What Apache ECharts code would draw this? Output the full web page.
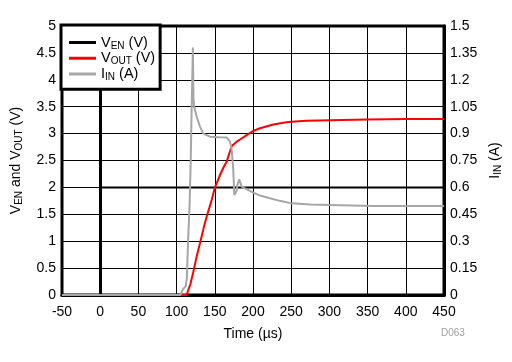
<!DOCTYPE html>
<html><head><meta charset="utf-8">
<script src="https://cdn.jsdelivr.net/npm/echarts@6/dist/echarts.min.js"></script>
<style>html,body{margin:0;padding:0;background:#fff}#c{width:512px;height:362px}</style>
</head><body><div id="c"></div>
<script>
// Data
const tEN = [-50, 0, 0.2, 1, 450];
const vEN = [0, 0, 0.8, 2, 2];
const tOUT = [-50, 113, 115.3, 118, 121.9, 126, 130.6, 135, 139.4, 146, 150, 156.8, 161, 165.6, 172.1, 178.7, 183, 191.7, 200.4, 209.2, 226.5, 244, 250.6, 270, 300.8, 350, 400, 450];
const vOUT = [0, 0, 0.03, 0.2, 0.43, 0.7, 0.96, 1.22, 1.46, 1.77, 1.99, 2.23, 2.36, 2.48, 2.77, 2.85, 2.89, 2.97, 3.05, 3.10, 3.17, 3.21, 3.22, 3.24, 3.25, 3.26, 3.27, 3.27];
const tIN = [-50, 105, 108, 110, 112, 113.5, 115, 117, 118.5, 119.5, 120.5, 121.3, 122, 123, 126.3, 130.6, 135, 143.7, 155, 165.6, 169.9, 172.1, 174.2, 175.5, 177, 178.5, 180, 182, 185.2, 189.5, 200.4, 210, 222.3, 235, 250.6, 275, 300.8, 357.5, 400, 450];
const iIN = [0, 0, 0.03, 0.02, 0.05, 0.1, 0.3, 0.5, 0.75, 1.0, 1.2, 1.38, 1.1, 1.05, 0.994, 0.939, 0.9, 0.883, 0.88, 0.878, 0.855, 0.809, 0.697, 0.558, 0.552, 0.58, 0.62, 0.645, 0.604, 0.595, 0.571, 0.553, 0.539, 0.525, 0.511, 0.505, 0.502, 0.496, 0.496, 0.496];
const xTicks = {min: -50, max: 450, interval: 50};
const yLeft = {min: 0, max: 5, interval: 0.5};
const yRight = {min: 0, max: 1.5, interval: 0.15};

const zip = (a, b) => a.map((t, i) => [t, b[i]]);
const FONT = 'Liberation Sans';
const rich = {
  n: {fontFamily: FONT, fontSize: 14, color: '#000', lineHeight: 16},
  s: {fontFamily: FONT, fontSize: 10, color: '#000', verticalAlign: 'bottom', lineHeight: 16, padding: [5, 0, 0, 0]}
};
const richLeg = {
  n: {fontFamily: FONT, fontSize: 14.5, color: '#000', lineHeight: 16.5},
  s: {fontFamily: FONT, fontSize: 10, color: '#000', verticalAlign: 'bottom', lineHeight: 16.5, padding: [5, 0, 0, 0]}
};
const names = {'VEN': '{n|V}{s|EN}{n| (V)}', 'VOUT': '{n|V}{s|OUT}{n| (V)}', 'IIN': '{n|I}{s|IN}{n| (A)}'};

const chart = echarts.init(document.getElementById('c'), null, {renderer: 'canvas'});
chart.setOption({
  animation: false,
  textStyle: {fontFamily: FONT},
  grid: {left: 62, right: 68, top: 26, bottom: 67, show: true, borderColor: '#000', borderWidth: 3, containLabel: false},
  legend: {
    orient: 'vertical', left: 61, top: 25,
    backgroundColor: '#fff', borderColor: '#000', borderWidth: 3,
    padding: [10, 5, 7, 8], itemGap: 0,
    icon: 'rect', itemWidth: 27, itemHeight: 3,
    textStyle: {fontFamily: FONT, fontSize: 14.5, color: '#000', rich: richLeg},
    formatter: n => names[n],
    data: ['VEN', 'VOUT', 'IIN']
  },
  xAxis: {
    type: 'value', min: xTicks.min, max: xTicks.max, interval: xTicks.interval,
    name: 'Time (µs)', nameLocation: 'middle', nameGap: 32,
    nameTextStyle: {fontFamily: FONT, fontSize: 14, color: '#000'},
    axisLine: {show: true, lineStyle: {color: '#000', width: 3}},
    axisTick: {show: false},
    axisLabel: {fontFamily: FONT, fontSize: 14, color: '#000', margin: 10},
    splitLine: {show: true, lineStyle: {color: '#000', width: 1}}
  },
  yAxis: [{
    type: 'value', min: yLeft.min, max: yLeft.max, interval: yLeft.interval, position: 'left',
    name: '{n|V}{s|EN}{n| and V}{s|OUT}{n| (V)}', nameLocation: 'middle', nameGap: 38, nameRotate: 90,
    nameTextStyle: {rich: rich},
    axisLine: {show: true, lineStyle: {color: '#000', width: 3}},
    axisTick: {show: false},
    axisLabel: {fontFamily: FONT, fontSize: 14, color: '#000', margin: 6},
    splitLine: {show: true, lineStyle: {color: '#000', width: 1}}
  }, {
    type: 'value', min: yRight.min, max: yRight.max, interval: yRight.interval, position: 'right',
    name: '{n|I}{s|IN}{n| (A)}', nameLocation: 'middle', nameGap: 42, nameRotate: 90,
    nameTextStyle: {rich: rich},
    axisLine: {show: true, lineStyle: {color: '#000', width: 3}},
    axisTick: {show: false},
    axisLabel: {fontFamily: FONT, fontSize: 14, color: '#000', margin: 6, formatter: v => String(+v.toFixed(2))},
    splitLine: {show: false}
  }],
  series: [
    {name: 'VEN', type: 'line', yAxisIndex: 0, data: zip(tEN, vEN), showSymbol: false, symbol: 'none', lineStyle: {color: '#000', width: 2}, itemStyle: {color: '#000'}, z: 3},
    {name: 'VOUT', type: 'line', yAxisIndex: 0, data: zip(tOUT, vOUT), showSymbol: false, symbol: 'none', lineStyle: {color: '#ff0000', width: 2}, itemStyle: {color: '#ff0000'}, z: 4},
    {name: 'IIN', type: 'line', yAxisIndex: 1, data: zip(tIN, iIN), showSymbol: false, symbol: 'none', lineStyle: {color: '#a6a6a6', width: 2}, itemStyle: {color: '#a6a6a6'}, z: 5}
  ],
  graphic: [{type: 'text', left: 441, top: 328, style: {text: 'D063', fontFamily: FONT, fontSize: 10, fill: '#a0a0a0'}}]
});
</script></body></html>
